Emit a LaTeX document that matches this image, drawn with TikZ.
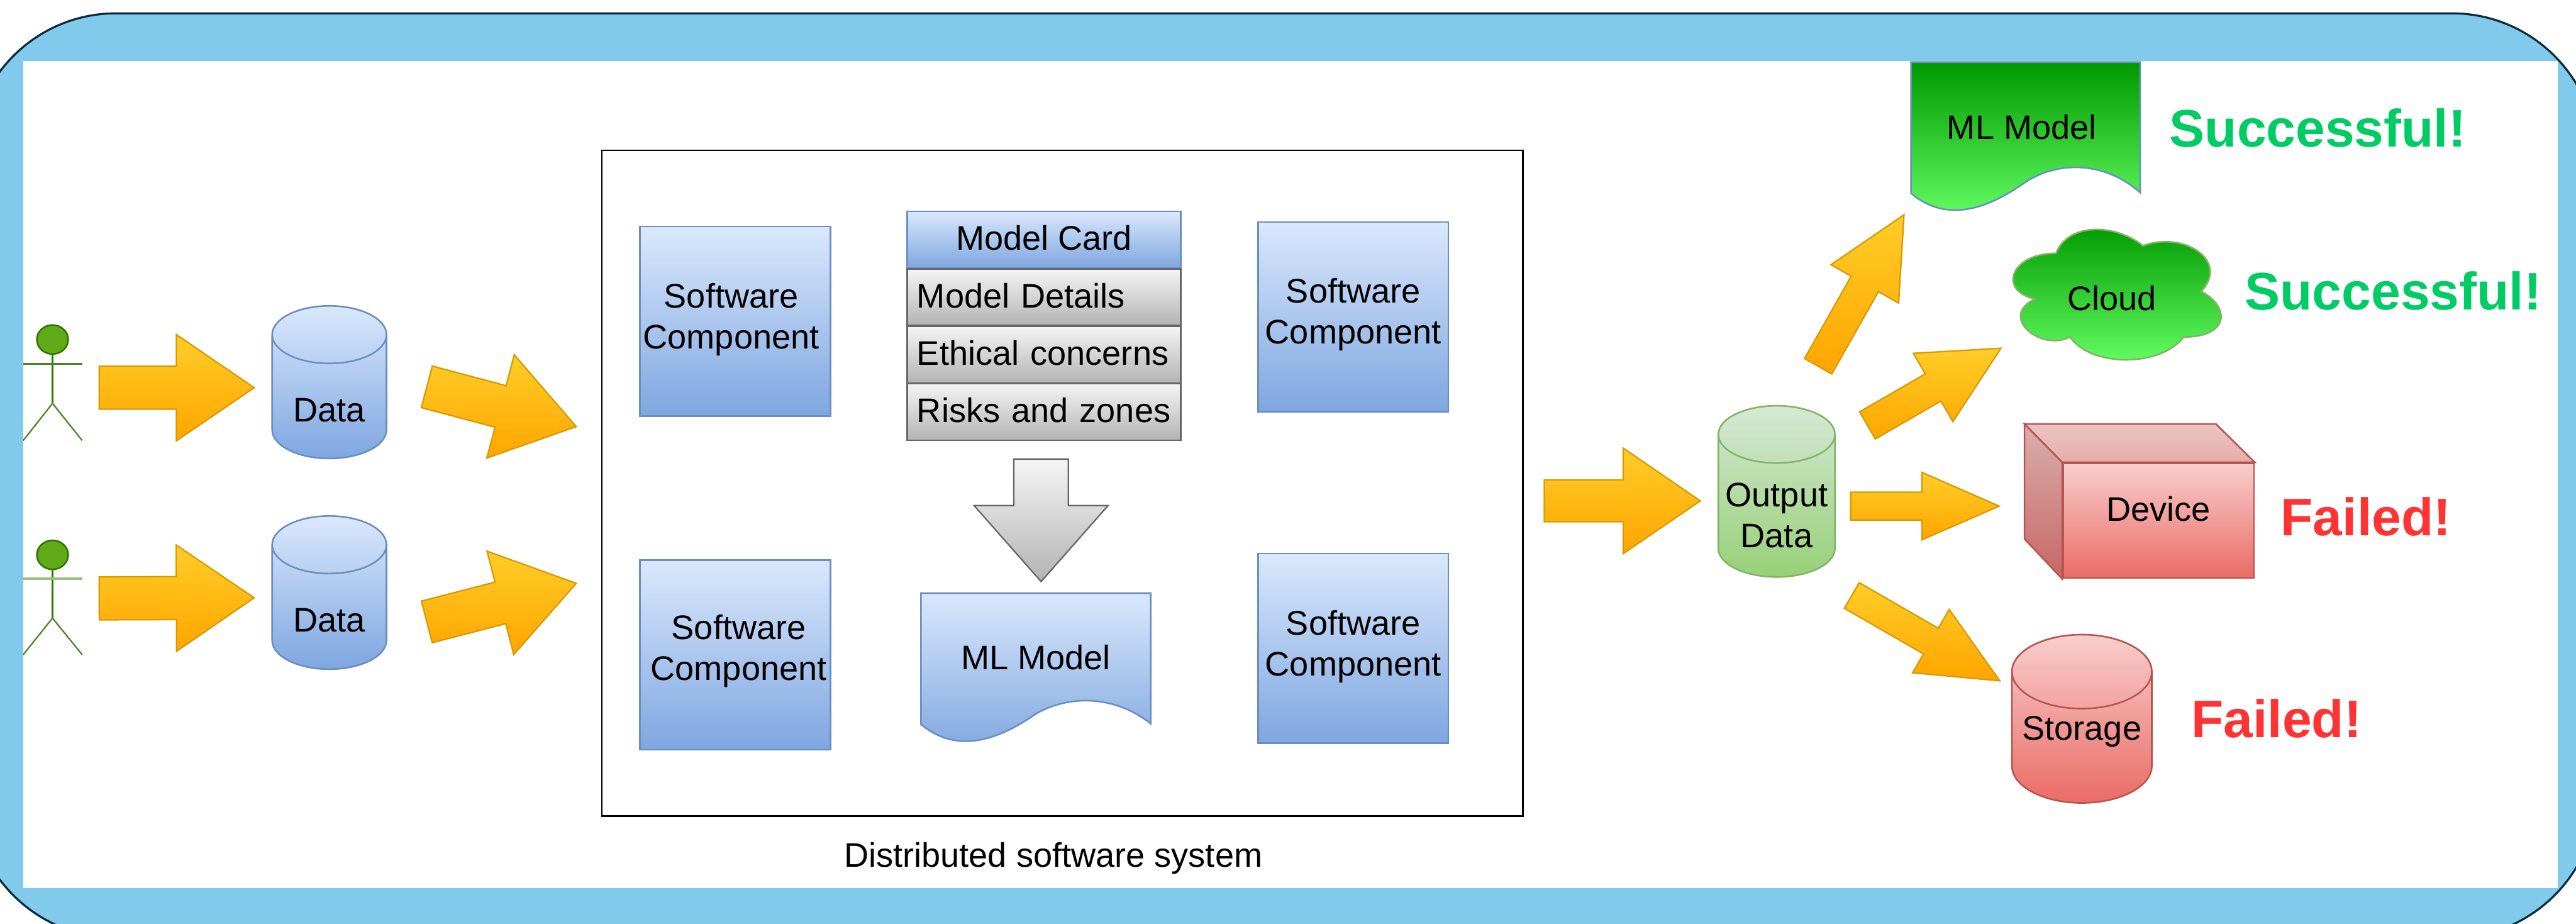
\documentclass[tikz,border=0pt]{standalone}
\usepackage{fontspec}
\setmainfont{Liberation Sans}
\usetikzlibrary{calc,shapes.geometric}
\definecolor{frameblue}{HTML}{82CAEB}
\definecolor{framedark}{HTML}{0B2A3C}
\tikzset{
	blockarrow/.style n args={4}{shade,shading angle=#1,line width=0.7pt,miter limit=10,
		to path={($(\tikztostart)!#2!90:(\tikztotarget)$)
			-- ($(\tikztotarget)!#4!(\tikztostart)!#2!-90:(\tikztostart)$)
			-- ($(\tikztotarget)!#4!(\tikztostart)!#3!-90:(\tikztostart)$)
			-- (\tikztotarget)
			-- ($(\tikztotarget)!#4!(\tikztostart)!#3!90:(\tikztostart)$)
			-- ($(\tikztotarget)!#4!(\tikztostart)!#2!90:(\tikztostart)$)
			-- ($(\tikztostart)!#2!-90:(\tikztotarget)$) -- cycle}},
	orangearrow/.style n args={4}{blockarrow={#1}{#2}{#3}{#4},draw={rgb,255:red,215;green,155;blue,0},top color={rgb,255:red,255;green,205;blue,40},bottom color={rgb,255:red,255;green,165;blue,0}},
	greyarrow/.style n args={4}{blockarrow={#1}{#2}{#3}{#4},draw={rgb,255:red,102;green,102;blue,102},top color={rgb,255:red,245;green,245;blue,245},bottom color={rgb,255:red,179;green,179;blue,179}}
}
\begin{document}
\begin{tikzpicture}
	\tikzstyle{every node}+=[inner sep=0pt,font=\fontsize{16.7}{20}\selectfont,align=center]
	\tikzstyle{blueshade}=[draw={rgb,255:red,108;green,142;blue,191},line width=0.8pt,top color={rgb,255:red,218;green,232;blue,252},bottom color={rgb,255:red,126;green,166;blue,224}]
	\tikzstyle{greyshade}=[draw={rgb,255:red,102;green,102;blue,102},line width=0.8pt,top color={rgb,255:red,245;green,245;blue,245},bottom color={rgb,255:red,179;green,179;blue,179}]
	\tikzstyle{greenshade}=[draw={rgb,255:red,130;green,179;blue,102},line width=0.8pt,top color={rgb,255:red,213;green,232;blue,212},bottom color={rgb,255:red,151;green,208;blue,119}]
	\tikzstyle{redshade}=[draw={rgb,255:red,184;green,84;blue,80},line width=0.8pt,top color={rgb,255:red,248;green,206;blue,204},bottom color={rgb,255:red,234;green,107;blue,102}]
	\tikzstyle{brightgreen}=[top color={rgb,255:red,0;green,153;blue,0},bottom color={rgb,255:red,102;green,255;blue,102},line width=0.8pt]
	\tikzstyle{softbox}=[blueshade,minimum width=3.28cm,minimum height=3.27cm]
	\tikzstyle{cardrow}=[greyshade,minimum width=4.72cm,minimum height=0.98cm,text width=4.38cm,align=left,text depth=0.06cm]
	\tikzstyle{barrel}=[cylinder,shape border rotate=90,aspect=0.8]
	\tikzstyle{actorhead}=[ellipse,draw={rgb,255:red,45;green,118;blue,0},fill={rgb,255:red,96;green,169;blue,23},line width=0.8pt,minimum width=0.54cm,minimum height=0.5cm]
	\tikzstyle{actorbody}=[draw={rgb,255:red,45;green,118;blue,0},line width=1.1pt]
	\tikzstyle{actorline}=[draw={rgb,255:red,70;green,135;blue,40},line width=0.7pt]
	\tikzstyle{goodtext}=[font=\fontsize{25.9}{30}\selectfont\bfseries,text={rgb,255:red,0;green,204;blue,102}]
	\tikzstyle{badtext}=[font=\fontsize{25.9}{30}\selectfont\bfseries,text={rgb,255:red,255;green,51;blue,51}]
	\useasboundingbox (0,0) rectangle (44.39,-15.91);
	\clip (0,0) rectangle (44.39,-15.91);
	\draw [draw=framedark,fill=frameblue,line width=1pt,rounded corners=2.5cm] (-0.5,-0.23) rectangle (44.75,-16.16);
	\fill [white] (0.4,-1.05) rectangle (44.08,-15.3);
	\node [actorhead] (actor1) at (0.905,-5.85) {};
	\draw [actorbody] (actor1.south) -- (0.905,-6.95);
	\draw [actorline] (0.4,-6.27) -- (1.416,-6.27);
	\draw [actorline] (0.4,-7.59) -- (0.905,-6.95) -- (1.416,-7.59);
	\node [actorhead] (actor2) at (0.905,-9.56) {};
	\draw [actorbody] (actor2.south) -- (0.905,-10.65);
	\draw [actorline,draw={rgb,255:red,150;green,190;blue,125},line width=1.2pt] (0.4,-9.97) -- (1.416,-9.97);
	\draw [actorline] (0.4,-11.28) -- (0.905,-10.65) -- (1.416,-11.28);
	\node [barrel,blueshade,minimum width=1.97cm,minimum height=2.63cm,text height=0.85cm] (data1) at (5.675,-6.84) {Data};
	\node [barrel,blueshade,minimum width=1.97cm,minimum height=2.64cm,text height=0.85cm] (data2) at (5.675,-10.465) {Data};
	\node [draw=black,line width=0.8pt,minimum width=15.87cm,minimum height=11.47cm] (sysbox) at (18.305,-8.325) {};
	\node (syslabel) at (18.15,-14.79) {Distributed software system};
	\node [softbox] (soft1) at (12.67,-5.535) {Software\hspace*{0.14cm}\\Component\hspace*{0.14cm}\rule[-0.18cm]{0pt}{0pt}};
	\node [softbox] (soft2) at (23.32,-5.46) {Software\\Component\rule[-0.21cm]{0pt}{0pt}};
	\node [softbox] (soft3) at (12.67,-11.285) {\hspace*{0.12cm}Software\\\hspace*{0.12cm}Component\rule[-0.26cm]{0pt}{0pt}};
	\node [softbox] (soft4) at (23.32,-11.17) {Software\\Component\rule[-0.18cm]{0pt}{0pt}};
	\node [blueshade,minimum width=4.72cm,minimum height=0.98cm,text depth=0.06cm] (card) at (17.99,-4.13) {Model Card};
	\node [cardrow] (details) at (17.99,-5.12) {Model Details};
	\node [cardrow] (ethics) at (17.99,-6.11) {Ethical concerns};
	\node [cardrow] (risks) at (17.99,-7.095) {Risks and zones};
	\draw [blueshade] (15.87,-10.22) -- (19.83,-10.22) -- (19.83,-12.47) .. controls (19.25,-12.0) and (18.45,-11.95) .. (17.85,-12.3) .. controls (17.2,-12.75) and (16.5,-13.0) .. (15.87,-12.48) -- cycle;
	\node (model) at (17.85,-11.33) {ML Model};
	\draw [brightgreen,draw={rgb,255:red,108;green,142;blue,191}] (32.93,-1.07) -- (36.88,-1.07) -- (36.88,-3.32) .. controls (36.3,-2.8) and (35.5,-2.75) .. (34.9,-3.14) .. controls (34.25,-3.6) and (33.55,-3.85) .. (32.93,-3.33) -- cycle;
	\node (mlgreen) at (34.84,-2.19) {ML Model};
	\draw [brightgreen,draw={rgb,255:red,130;green,179;blue,102}] (35.43,-4.365) .. controls (34.63,-4.365) and (34.43,-5.02) .. (35.07,-5.151) .. controls (34.43,-5.439) and (35.15,-6.068) .. (35.67,-5.806) .. controls (36.03,-6.33) and (37.23,-6.33) .. (37.63,-5.806) .. controls (38.43,-5.806) and (38.43,-5.282) .. (37.93,-5.02) .. controls (38.43,-4.496) and (37.63,-3.972) .. (36.93,-4.234) .. controls (36.43,-3.841) and (35.63,-3.841) .. (35.43,-4.365) -- cycle;
	\node (cloud) at (36.39,-5.14) {Cloud};
	\node [barrel,aspect=0.56,greenshade,minimum width=2.01cm,minimum height=2.95cm] (output) at (30.615,-8.72) {\rule{0pt}{0.73cm}Output\\Data};
	\node [redshade,minimum width=3.29cm,minimum height=1.98cm,text depth=0.4cm] (device) at (37.195,-8.97) {Device};
	\draw [redshade,top color={rgb,255:red,236;green,196;blue,194},bottom color={rgb,255:red,229;green,173;blue,171}] (device.north west) -- ++(-0.65,0.66) -- ++(3.3,0) -- (device.north east) -- cycle;
	\draw [redshade,top color={rgb,255:red,217;green,174;blue,173},bottom color={rgb,255:red,198;green,103;blue,99}] (device.north west) -- ++(-0.65,0.66) -- ++(0,-1.98) -- (device.south west) -- cycle;
	\node [barrel,aspect=0.62,redshade,minimum width=2.41cm,minimum height=2.9cm,text depth=0.34cm] (storage) at (35.875,-12.71) {Storage};
	\node [goodtext] (success1) at (39.94,-2.21) {Successful!};
	\node [goodtext] (success2) at (41.24,-5.01) {Successful!};
	\node [badtext] (fail1) at (40.77,-8.9) {Failed!};
	\node [badtext] (fail2) at (39.23,-12.38) {Failed!};
	\path [orangearrow={0}{0.37cm}{0.915cm}{1.34cm}] ($(actor1)+(0.805,-0.83)$) to ($(data1)+(-1.295,0.16)$);
	\path [orangearrow={0}{0.37cm}{0.915cm}{1.34cm}] ($(actor2)+(0.805,-0.75)$) to ($(data2)+(-1.295,0.165)$);
	\path [orangearrow={-14.9}{0.37cm}{0.92cm}{1.35cm}] ($(data1)+(1.68,0.175)$) to ($(sysbox)+(-8.375,0.975)$);
	\path [orangearrow={14.5}{0.37cm}{0.92cm}{1.35cm}] ($(data2)+(1.68,-0.25)$) to ($(sysbox)+(-8.375,-1.725)$);
	\path [orangearrow={0}{0.36cm}{0.91cm}{1.33cm}] ($(sysbox)+(8.305,-0.305)$) to ($(output)+(-1.315,0.09)$);
	\path [orangearrow={60.4}{0.27cm}{0.67cm}{1.37cm}] ($(output)+(0.715,2.41)$) to ($(mlgreen)+(-2.03,-1.51)$);
	\path [orangearrow={30}{0.27cm}{0.68cm}{1.35cm}] ($(output)+(1.565,1.39)$) to ($(cloud)+(-1.91,-0.86)$);
	\path [orangearrow={0}{0.24cm}{0.58cm}{1.33cm}] ($(output)+(1.275,0)$) to ($(device)+(-2.745,0.25)$);
	\path [orangearrow={-30}{0.255cm}{0.63cm}{1.37cm}] ($(output)+(1.295,-1.54)$) to ($(storage)+(-1.415,0.98)$);
	\path [greyarrow={-90}{0.47cm}{1.155cm}{1.31cm}] ($(risks)+(-0.05,-0.815)$) to ($(model)+(0.09,1.31)$);
\end{tikzpicture}
\end{document}
